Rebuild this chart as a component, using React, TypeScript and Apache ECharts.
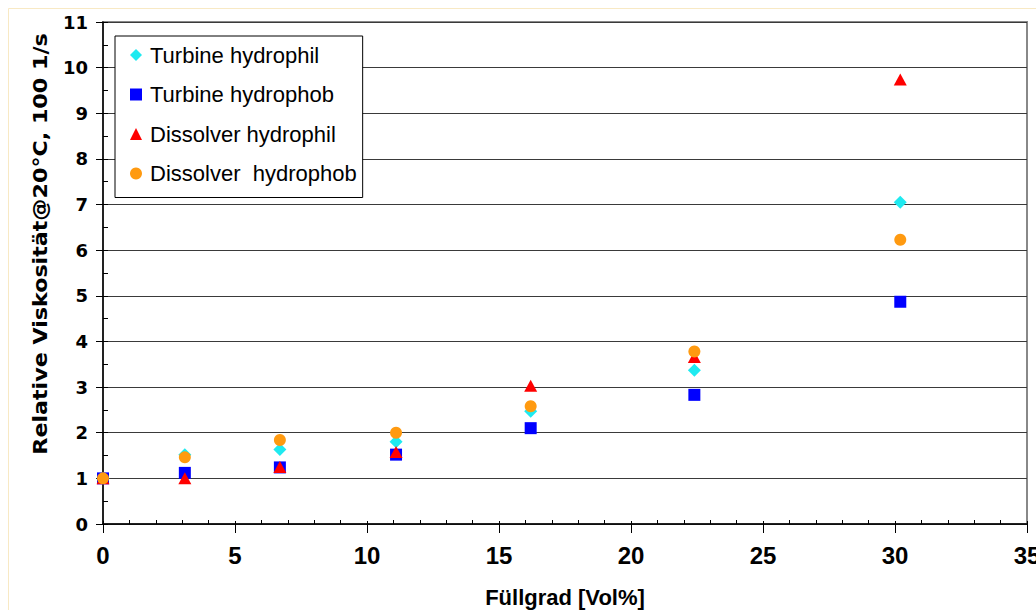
import React, { useEffect, useRef } from "react";
import * as echarts from "echarts";

const xValues = [0, 3.1, 6.7, 11.1, 16.2, 22.4, 30.2];
const turbineHydrophil = [1.0, 1.52, 1.63, 1.8, 2.47, 3.37, 7.05];
const turbineHydrophob = [1.0, 1.12, 1.24, 1.52, 2.1, 2.83, 4.87];
const dissolverHydrophil = [1.0, 1.0, 1.25, 1.58, 3.03, 3.66, 9.74];
const dissolverHydrophob = [1.0, 1.46, 1.84, 2.0, 2.58, 3.78, 6.23];

const seriesNames = [
  "Turbine hydrophil",
  "Turbine hydrophob",
  "Dissolver hydrophil",
  "Dissolver  hydrophob",
];
const seriesColors = ["#1FEAF0", "#0000FF", "#FF0000", "#FF9A10"];
const seriesSymbols = ["diamond", "rect", "triangle", "circle"];
const seriesSizes: any[] = [13, 12, [13, 12], 12];
const seriesValues = [turbineHydrophil, turbineHydrophob, dissolverHydrophil, dissolverHydrophob];

const xTitle = "Füllgrad [Vol%]";
const yTitle = "Relative Viskosität@20°C, 100 1/s";

const FONT = "'Liberation Sans', Arial, sans-serif";
const WIDEFONT = "'DejaVu Sans', sans-serif";

export default function App() {
  const ref = useRef<HTMLDivElement>(null);
  useEffect(() => {
    if (!ref.current) return;
    const chart = echarts.init(ref.current, undefined, { renderer: "svg" });
    const gridRect = { left: 103, top: 22, width: 924, height: 502, containLabel: false, outerBoundsMode: "none" };
    const option: any = {
      animation: false,
      backgroundColor: "#ffffff",
      grid: [
        { ...gridRect, show: true, borderColor: "#888888", borderWidth: 2, backgroundColor: "transparent" },
        { ...gridRect },
      ],
      xAxis: [
        {
          type: "value",
          gridIndex: 0,
          min: 0,
          max: 35,
          interval: 5,
          name: xTitle,
          nameLocation: "middle",
          nameGap: 62,
          nameTextStyle: { fontFamily: FONT, fontWeight: "bold", fontSize: 22, color: "#000" },
          axisLine: { show: true, onZero: false, lineStyle: { color: "#000", width: 1.5 } },
          axisTick: { show: true, inside: false, length: 9, lineStyle: { color: "#000" } },
          axisLabel: { fontFamily: FONT, fontWeight: "bold", fontSize: 24, color: "#000", margin: 19 },
          splitLine: { show: false },
        },
        {
          type: "value",
          gridIndex: 1,
          min: 0,
          max: 35,
          interval: 5,
          axisLine: { show: false },
          axisTick: { show: true, inside: true, length: 3, lineStyle: { color: "#000" } },
          minorTick: { show: true, splitNumber: 5, length: 4, lineStyle: { color: "#000" } },
          axisLabel: { show: false },
          splitLine: { show: false },
        },
      ],
      yAxis: [
        {
          type: "value",
          gridIndex: 0,
          min: 0,
          max: 11,
          interval: 1,
          axisLine: { show: true, onZero: false, lineStyle: { color: "#000", width: 1.5 } },
          axisTick: { show: true, inside: false, length: 7, lineStyle: { color: "#000" } },
          axisLabel: { fontFamily: WIDEFONT, fontWeight: "bold", fontSize: 18, color: "#000", margin: 15 },
          splitLine: { show: true, lineStyle: { color: "#3a3a3a", width: 1.2 } },
        },
        {
          type: "value",
          gridIndex: 1,
          min: 0,
          max: 11,
          interval: 1,
          axisLine: { show: false },
          axisTick: { show: true, inside: true, length: 5, lineStyle: { color: "#000" } },
          minorTick: { show: true, splitNumber: 2, length: 5, lineStyle: { color: "#000" } },
          axisLabel: { show: false },
          splitLine: { show: false },
        },
      ],
      legend: {
        orient: "vertical",
        left: 115,
        top: 36,
        padding: [8, 6, 13, 15],
        itemGap: 17.5,
        itemWidth: 12,
        itemHeight: 12,
        backgroundColor: "#ffffff",
        borderColor: "#000",
        borderWidth: 1,
        borderRadius: 0,
        textStyle: { fontFamily: FONT, fontSize: 22, color: "#000", padding: [0, 0, 0, 3] },
        data: seriesNames.map((n, i) => ({ name: n, icon: seriesSymbols[i], itemStyle: { color: seriesColors[i], opacity: 1 } })),
      },
      graphic: [
        {
          type: "rect",
          silent: true,
          shape: { x: 8.5, y: 8.5, width: 1040, height: 620 },
          style: { fill: "none", stroke: "#F8E9C4", lineWidth: 1 },
          z: 100,
        },
        {
          type: "text",
          silent: true,
          x: 40,
          y: 244,
          rotation: Math.PI / 2,
          scaleX: 1.11,
          style: {
            text: yTitle,
            fontFamily: WIDEFONT,
            fontWeight: "bold",
            fontSize: 20,
            fill: "#000",
            textAlign: "center",
            textVerticalAlign: "middle",
          },
        },
      ],
      series: seriesNames.map((n, i) => ({
        name: n,
        type: "scatter",
        xAxisIndex: 0,
        yAxisIndex: 0,
        symbol: seriesSymbols[i],
        symbolSize: seriesSizes[i],
        itemStyle: { color: seriesColors[i], opacity: 1 },
        z: 3 + i,
        data: xValues.map((x, j) => [x, seriesValues[i][j]]),
      })),
    };
    chart.setOption(option);
    return () => chart.dispose();
  }, []);
  return (
    <div
      ref={ref}
      style={{ position: "absolute", left: 0, top: 0, width: 1036, height: 610 }}
    />
  );
}
